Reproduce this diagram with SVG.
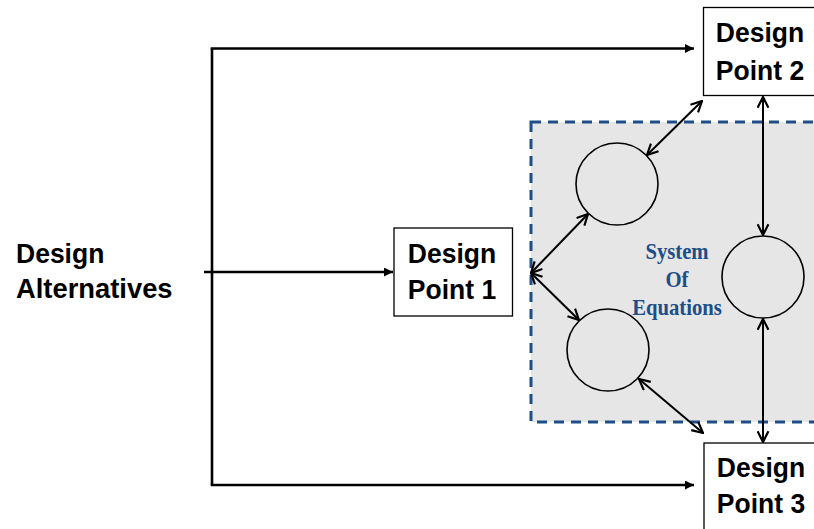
<svg xmlns="http://www.w3.org/2000/svg" width="814" height="529" viewBox="0 0 814 529">
  <style>
    .label { font-family: "Liberation Sans", Arial, sans-serif; font-weight: bold; font-size: 28.5px; fill: #000; }
    .mid { text-anchor: middle; }
    .box { fill: #fff; stroke: #000; stroke-width: 1.3; }
    .eq { fill: none; stroke: #000; stroke-width: 1.6; }
    .feed { fill: none; stroke: #000; stroke-width: 2.6; }
    .link { fill: none; stroke: #000; stroke-width: 2; marker-start: url(#open); marker-end: url(#open); }
    .sys { font-family: "Liberation Serif", "Times New Roman", serif; font-weight: bold; font-size: 23px; fill: #1d4e89; text-anchor: middle; }
  </style>
  <defs>
    <marker id="solid" viewBox="0 0 10 10" refX="10" refY="5" markerWidth="10" markerHeight="9" markerUnits="userSpaceOnUse" orient="auto">
      <path d="M0,0 L10,5 L0,10 Z" fill="#000"/>
    </marker>
    <marker id="open" viewBox="0 0 12 12" refX="11" refY="6" markerWidth="13" markerHeight="13" markerUnits="userSpaceOnUse" orient="auto-start-reverse">
      <path d="M1,1 L11,6 L1,11" fill="none" stroke="#000" stroke-width="2"/>
    </marker>
  </defs>

  <rect width="814" height="529" fill="#fff"/>

  <!-- system of equations region -->
  <g id="system">
    <rect x="531" y="122" width="300" height="300" fill="#e6e6e6" stroke="#1d4e89" stroke-width="3" stroke-dasharray="10 7"/>
    <g transform="translate(677 0) scale(0.9 1)">
      <text class="sys" x="0" y="259">System</text>
      <text class="sys" x="0" y="287">Of</text>
      <text class="sys" x="0" y="315.5">Equations</text>
    </g>
  </g>

  <g id="eq1"><circle class="eq" cx="617" cy="184" r="41"/></g>
  <g id="eq2"><circle class="eq" cx="608" cy="350" r="41"/></g>
  <g id="eq3"><circle class="eq" cx="763" cy="277" r="41"/></g>

  <g id="alternatives">
    <text class="label" x="0" y="263" transform="translate(16 0) scale(0.93 1)">Design</text>
    <text class="label" x="0" y="298.5" transform="translate(16 0) scale(0.96 1)">Alternatives</text>
  </g>

  <g id="dp1">
    <rect class="box" x="394" y="228" width="118.5" height="88"/>
    <g transform="translate(452 0) scale(0.93 1)">
      <text class="label mid" x="0" y="263">Design</text>
      <text class="label mid" x="0" y="299.5">Point 1</text>
    </g>
  </g>

  <g id="dp2">
    <rect class="box" x="703.5" y="7.5" width="120" height="88"/>
    <g transform="translate(760 0) scale(0.93 1)">
      <text class="label mid" x="0" y="42.5">Design</text>
      <text class="label mid" x="0" y="80">Point 2</text>
    </g>
  </g>

  <g id="dp3">
    <rect class="box" x="704" y="443" width="120" height="100"/>
    <g transform="translate(761 0) scale(0.93 1)">
      <text class="label mid" x="0" y="477">Design</text>
      <text class="label mid" x="0" y="513">Point 3</text>
    </g>
  </g>

  <g id="connectors">
    <!-- feed from the alternatives to each design point -->
    <path class="feed" d="M212,485 V48.5"/>
    <path class="feed" d="M210.7,48.5 H694" marker-end="url(#solid)"/>
    <path class="feed" d="M210.7,485 H694" marker-end="url(#solid)"/>
    <path class="feed" d="M204,272 H393" marker-end="url(#solid)"/>
    <!-- two-way couplings -->
    <line class="link" x1="702" y1="101" x2="647" y2="155"/>
    <line class="link" x1="763" y1="97" x2="763" y2="235"/>
    <line class="link" x1="588" y1="214" x2="531" y2="273"/>
    <line class="link" x1="531" y1="273" x2="579" y2="320"/>
    <line class="link" x1="639" y1="379" x2="703" y2="433"/>
    <line class="link" x1="763" y1="319" x2="763" y2="442"/>
  </g>
</svg>
